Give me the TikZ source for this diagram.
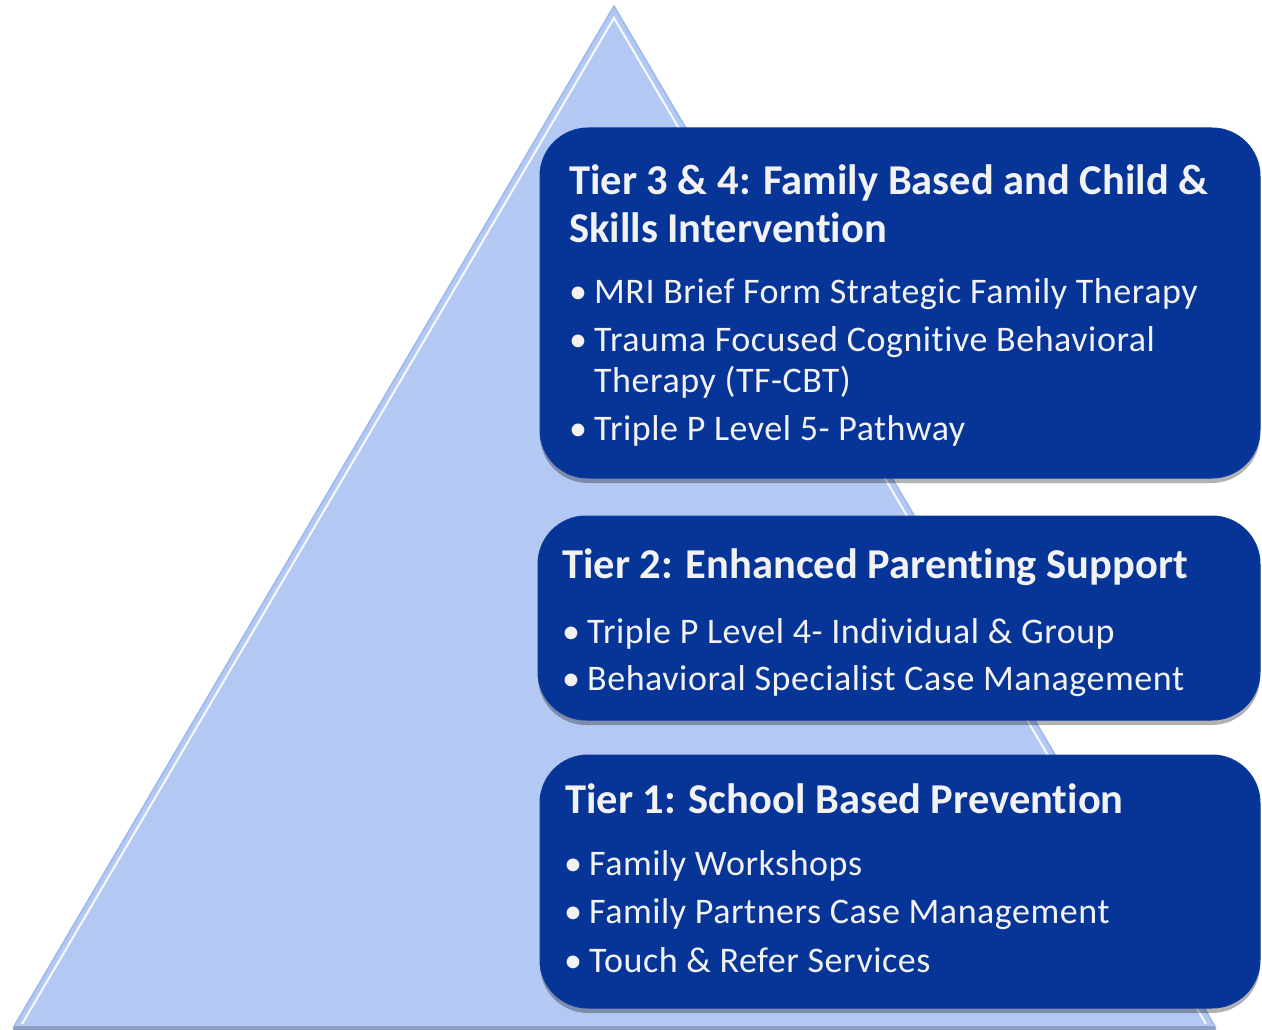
\documentclass[tikz,border=0pt]{standalone}
\usepackage{fontspec}
\setmainfont{Carlito}[Ligatures=NoCommon]
\newfontfamily\itmfont{Carlito}[LetterSpace=1.5, Ligatures=NoCommon]
\usetikzlibrary{shadows}
\definecolor{triblue}{HTML}{B3C9F4}
\definecolor{triedge}{HTML}{9DB8EC}
\definecolor{basesh}{HTML}{8E9FC4}
\definecolor{boxblue}{HTML}{063597}
\definecolor{boxedge}{HTML}{0B3A9C}
\definecolor{txt}{HTML}{F2F2F2}
\begin{document}
\begin{tikzpicture}[x=1pt,y=-1pt,
  tierbox/.style={rectangle, fill=boxblue, draw=boxedge, line width=1pt, rounded corners=48pt, inner sep=0pt,
    drop shadow={shadow xshift=0pt, shadow yshift=-5pt, opacity=0.3, fill=black}},
  ttl/.style={anchor=base west, text=txt, font=\bfseries\fontsize{42.5}{50}\selectfont, inner sep=0pt},
  itm/.style={anchor=base west, text=txt, font=\itmfont\fontsize{36}{43}\selectfont, inner sep=0pt},
  bul/.style={anchor=base, text=txt, font=\fontsize{36}{43}\selectfont, inner sep=0pt}]
\useasboundingbox (0,0) rectangle (1262,1030);
% pyramid
\coordinate (apex) at (614,6);
\coordinate (bl) at (13,1028);
\coordinate (br) at (1216,1028);
\fill[triblue] (apex) -- (br) -- (bl) -- cycle;
\draw[basesh, line width=4pt] (bl) -- (br);
\draw[triedge, line width=1.5pt, line join=miter] (bl) -- (apex) -- (br);
\coordinate (iapex) at (614,18);
\coordinate (ibl) at (22,1024);
\coordinate (ibr) at (1206,1024);
\draw[white, line width=2pt, opacity=0.9] (ibl) -- (iapex) -- (ibr);
% boxes
\node[tierbox, minimum width=720pt, minimum height=350pt] (t34) at (900,303) {};
\node[tierbox, minimum width=722pt, minimum height=204pt] (t2) at (899,618) {};
\node[tierbox, minimum width=720pt, minimum height=253pt] (t1) at (900,881.5) {};
% tier 3 & 4
\node[ttl] (t34a) at (569,195) {Tier 3 \& 4: Family Based and Child \&};
\node[ttl] (t34b) at (569,242) {Skills Intervention};
\node[bul] (b34a) at (578,303) {•};
\node[itm] (i34a) at (594,303) {MRI Brief Form Strategic Family Therapy};
\node[bul] (b34b) at (578,351) {•};
\node[itm] (i34b) at (594,351) {Trauma Focused Cognitive Behavioral};
\node[itm] (i34c) at (594,392) {Therapy (TF-CBT)};
\node[bul] (b34d) at (578,440) {•};
\node[itm] (i34d) at (594,440) {Triple P Level 5- Pathway};
% tier 2
\node[ttl] (t2a) at (562,578) {Tier 2: Enhanced Parenting Support};
\node[bul] (b2a) at (571,643) {•};
\node[itm] (i2a) at (587,643) {Triple P Level 4- Individual \& Group};
\node[bul] (b2b) at (571,690) {•};
\node[itm] (i2b) at (587,690) {Behavioral Specialist Case Management};
% tier 1
\node[ttl] (t1a) at (565,813) {Tier 1: School Based Prevention};
\node[bul] (b1a) at (573,875) {•};
\node[itm] (i1a) at (589,875) {Family Workshops};
\node[bul] (b1b) at (573,923) {•};
\node[itm] (i1b) at (589,923) {Family Partners Case Management};
\node[bul] (b1c) at (573,972) {•};
\node[itm] (i1c) at (589,972) {Touch \& Refer Services};
\end{tikzpicture}
\end{document}
